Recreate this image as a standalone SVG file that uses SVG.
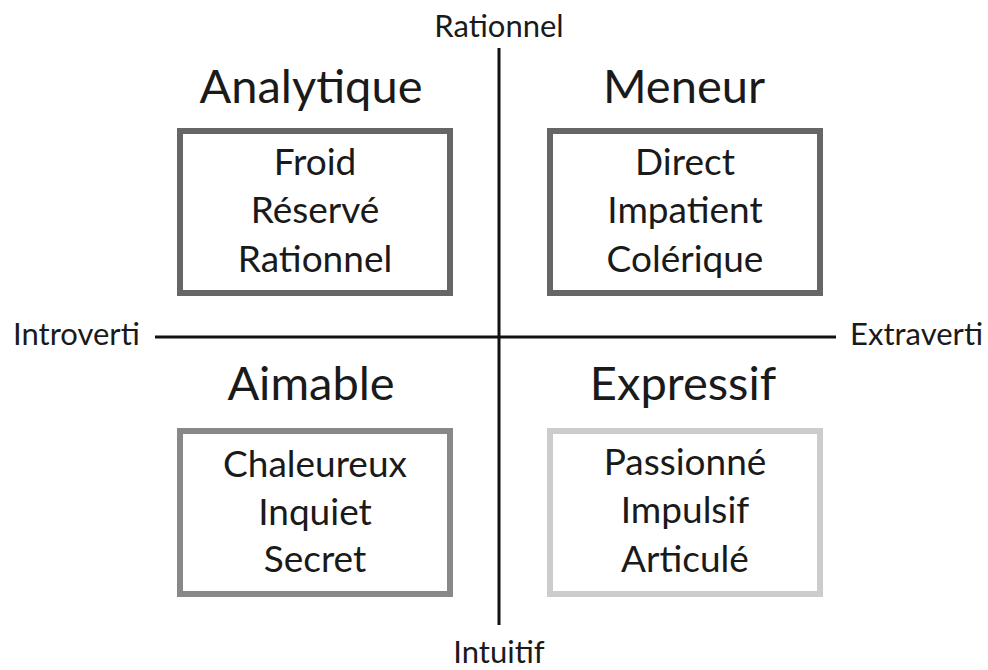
<svg xmlns="http://www.w3.org/2000/svg" width="988" height="670" viewBox="0 0 988 670">
<style>
text{font-family:Lato,"Liberation Sans",sans-serif;fill:#1a1a1a;text-anchor:middle}
.t{font-size:47px}
.b{font-size:37px}
.a{font-size:31px}
.box{fill:#fff;stroke-width:6}
.ax{stroke:#111;stroke-width:3}
</style>
<rect width="988" height="670" fill="#fff"/>
<g id="axes">
<line class="ax" x1="155" y1="337" x2="836" y2="337"/>
<line class="ax" x1="499" y1="48" x2="499" y2="625"/>
</g>
<g id="label-rationnel"><text class="a" x="499" y="37">Rationnel</text></g>
<g id="label-intuitif"><text class="a" x="499" y="663">Intuitif</text></g>
<g id="label-introverti"><text class="a" x="13" y="345" style="text-anchor:start">Introverti</text></g>
<g id="label-extraverti"><text class="a" x="983" y="345" style="text-anchor:end">Extraverti</text></g>
<g id="analytique">
<text class="t" x="311" y="103">Analytique</text>
<rect class="box" x="180" y="131" width="270" height="162" stroke="#666"/>
<text class="b" x="315" y="175">Froid</text>
<text class="b" x="315" y="223">Réservé</text>
<text class="b" x="315" y="272">Rationnel</text>
</g>
<g id="meneur">
<text class="t" x="684" y="103">Meneur</text>
<rect class="box" x="550" y="131" width="270" height="162" stroke="#666"/>
<text class="b" x="685" y="175">Direct</text>
<text class="b" x="685" y="223">Impatient</text>
<text class="b" x="685" y="272">Colérique</text>
</g>
<g id="aimable">
<text class="t" x="311" y="400">Aimable</text>
<rect class="box" x="180" y="431" width="270" height="163" stroke="#888"/>
<text class="b" x="315" y="477">Chaleureux</text>
<text class="b" x="315" y="525">Inquiet</text>
<text class="b" x="315" y="572">Secret</text>
</g>
<g id="expressif">
<text class="t" x="683" y="400">Expressif</text>
<rect class="box" x="550" y="431" width="270" height="163" stroke="#ccc"/>
<text class="b" x="685" y="475">Passionné</text>
<text class="b" x="685" y="523">Impulsif</text>
<text class="b" x="685" y="572">Articulé</text>
</g>
</svg>
